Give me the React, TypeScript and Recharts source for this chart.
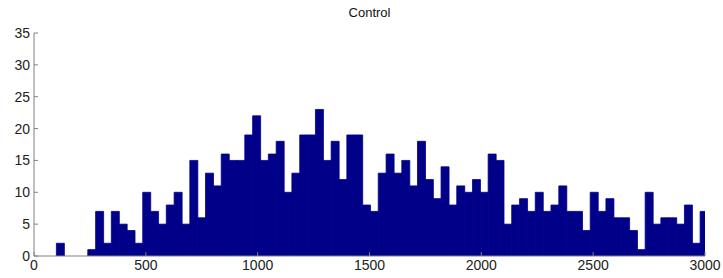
import { Bar, BarChart, XAxis, YAxis } from "recharts";

// Histogram bins: constant width, first bin edge at 100
const binStart = 100;
const binWidth = 35.1;

const counts = [
  2, 0, 0, 0,
  1, 7, 2, 7, 5, 4, 2, 10, 7, 5, 8, 10, 5, 15, 6, 13, 11, 16, 15, 15, 19, 22,
  15, 16, 18, 10, 13, 19, 19, 23, 15, 18, 12, 19, 19, 8, 7, 13, 16, 13, 15, 11, 18, 12, 9, 14, 8, 11, 10, 12,
  10, 16, 15, 5, 8, 9, 7, 10, 7, 8, 11, 7, 7, 4, 10, 7, 9, 6, 6, 4, 1, 10, 5, 6, 6, 5, 8, 2, 7,
];

const xTicks = [0, 500, 1000, 1500, 2000, 2500, 3000];
const yTicks = [0, 5, 10, 15, 20, 25, 30, 35];
const title = "Control";

const data = counts.map((count, i) => ({ center: binStart + binWidth * (i + 0.5), count }));

const FONT = "'Liberation Sans', Arial, sans-serif";
const AXIS = "#808080";
const BAR = "#000088";

export default function App() {
  return (
    <div style={{ position: "absolute", left: 0, top: 0, width: 723, height: 278, background: "#fff", fontFamily: FONT }}>
      <div style={{ position: "absolute", left: 0, width: 739, top: 5, textAlign: "center", fontSize: 13, color: "#111" }}>
        {title}
      </div>
      <BarChart
        width={723}
        height={278}
        data={data}
        margin={{ top: 33, right: 18, bottom: 0, left: 0 }}
        barCategoryGap={0}
        barGap={0}
      >
        <XAxis
          xAxisId="b"
          dataKey="center"
          type="number"
          domain={[0, 3000]}
          allowDataOverflow
          ticks={xTicks}
          interval={0}
          height={22}
          stroke={AXIS}
          tickSize={-4}
          tickMargin={8}
          tick={{ fill: "#222", fontSize: 14 }}
        />
        <XAxis
          xAxisId="t"
          orientation="top"
          dataKey="center"
          type="number"
          domain={[0, 3000]}
          allowDataOverflow
          ticks={xTicks}
          interval={0}
          height={0}
          stroke={AXIS}
          tickSize={-4}
          tick={false}
        />
        <YAxis
          yAxisId="l"
          type="number"
          domain={[0, 35]}
          allowDataOverflow
          ticks={yTicks}
          interval={0}
          width={34}
          stroke={AXIS}
          tickSize={-4}
          tickMargin={8}
          tick={{ fill: "#222", fontSize: 14 }}
        />
        <YAxis
          yAxisId="r"
          orientation="right"
          type="number"
          domain={[0, 35]}
          allowDataOverflow
          ticks={yTicks}
          interval={0}
          width={0}
          stroke={AXIS}
          tickSize={-4}
          tick={false}
        />
        <Bar
          xAxisId="b"
          yAxisId="l"
          dataKey="count"
          fill={BAR}
          stroke={BAR}
          strokeWidth={0.8}
          isAnimationActive={false}
        />
      </BarChart>
    </div>
  );
}
